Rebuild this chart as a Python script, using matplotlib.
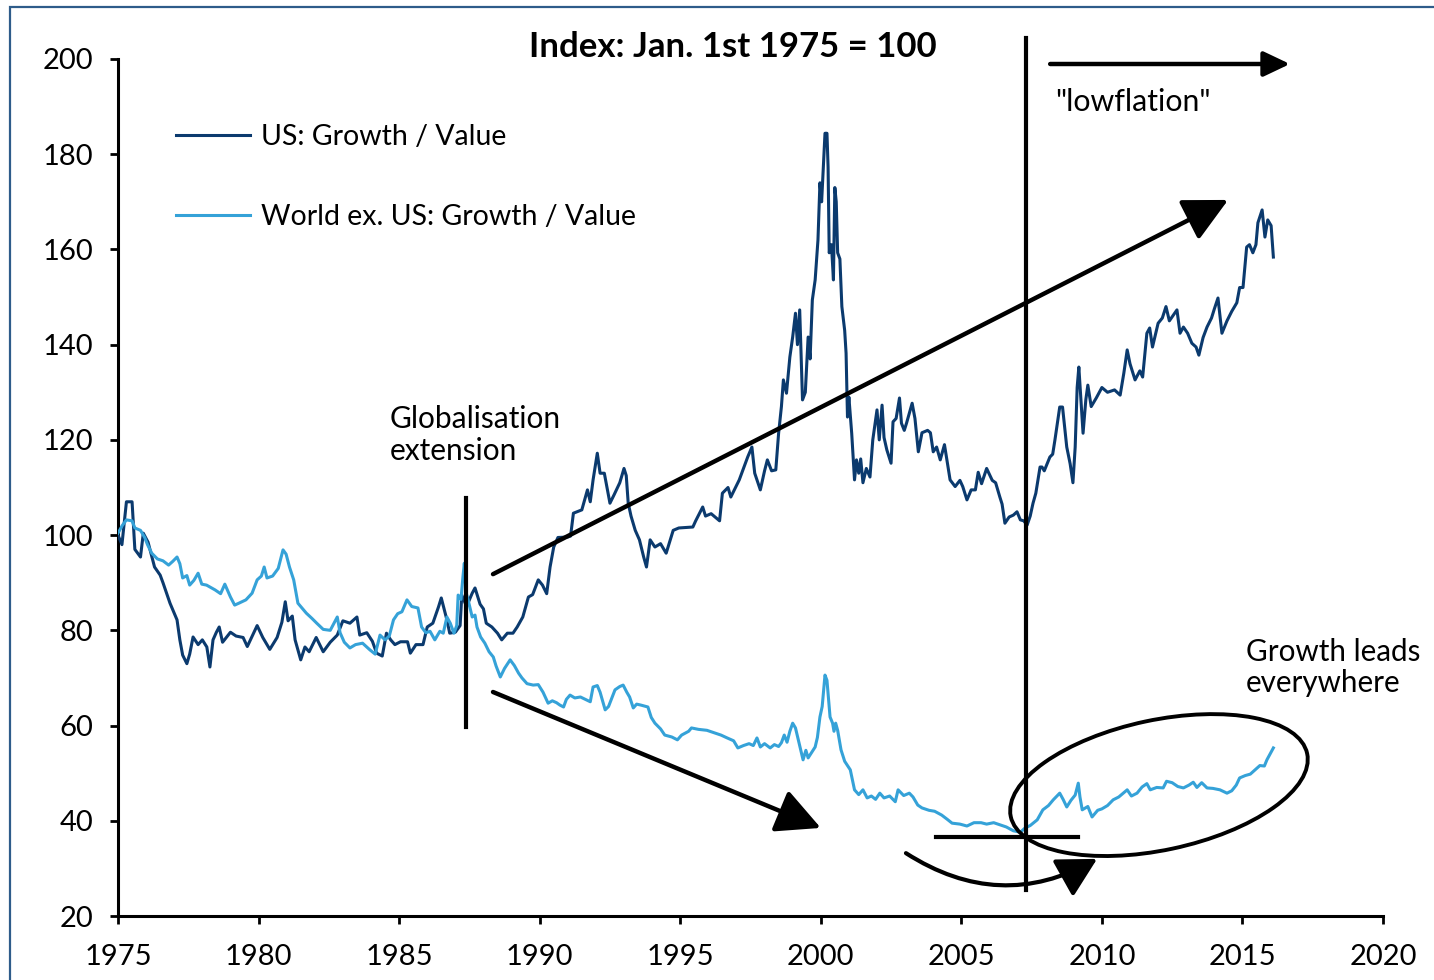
import matplotlib
matplotlib.use("Agg")
import matplotlib.pyplot as plt
from matplotlib.patches import Rectangle, Ellipse
from matplotlib import transforms

plt.rcParams['font.family'] = ['Lato', 'DejaVu Sans']

# ---------------- data ----------------
us_years = [1975.0, 1975.14, 1975.3, 1975.5, 1975.6, 1975.8, 1975.9, 1976.07, 1976.3, 1976.5,
            1976.6, 1976.85, 1977.1, 1977.2, 1977.3, 1977.45, 1977.55, 1977.67, 1977.85, 1978.0,
            1978.16, 1978.27, 1978.38, 1978.5, 1978.6, 1978.72, 1979.0, 1979.2, 1979.45, 1979.6,
            1979.95, 1980.15, 1980.4, 1980.66, 1980.83, 1980.95, 1981.05, 1981.2, 1981.3, 1981.5,
            1981.65, 1981.8, 1982.05, 1982.3, 1982.55, 1982.8, 1983.0, 1983.25, 1983.5, 1983.6,
            1983.85, 1984.05, 1984.2, 1984.4, 1984.55, 1984.7, 1984.85, 1985.05, 1985.3, 1985.4,
            1985.6, 1985.85, 1986.0, 1986.2, 1986.4, 1986.5, 1986.7, 1986.8, 1987.0, 1987.17,
            1987.23, 1987.4, 1987.6, 1987.7, 1987.88, 1988.0, 1988.1, 1988.3, 1988.5, 1988.65,
            1988.85, 1989.05, 1989.2, 1989.4, 1989.6, 1989.75, 1989.95, 1990.1, 1990.25, 1990.37,
            1990.5, 1990.65, 1991.0, 1991.1, 1991.2, 1991.5, 1991.7, 1991.8, 1991.9, 1992.05,
            1992.15, 1992.3, 1992.5, 1992.65, 1992.85, 1993.0, 1993.08, 1993.15, 1993.25, 1993.4,
            1993.55, 1993.7, 1993.8, 1993.93, 1994.1, 1994.3, 1994.5, 1994.75, 1994.95, 1995.45,
            1995.55, 1995.8, 1995.9, 1996.1, 1996.4, 1996.5, 1996.7, 1996.8, 1997.1, 1997.25,
            1997.4, 1997.55, 1997.65, 1997.85, 1998.0, 1998.1, 1998.25, 1998.4, 1998.5, 1998.6,
            1998.67, 1998.78, 1998.9, 1999.0, 1999.1, 1999.17, 1999.25, 1999.35, 1999.45, 1999.55,
            1999.62, 1999.7, 1999.8, 1999.9, 1999.97, 2000.03, 2000.08, 2000.15, 2000.22, 2000.26,
            2000.3, 2000.38, 2000.45, 2000.5, 2000.55, 2000.6, 2000.68, 2000.75, 2000.85, 2000.9,
            2000.95, 2001.0, 2001.1, 2001.2, 2001.27, 2001.35, 2001.42, 2001.5, 2001.62, 2001.75,
            2001.85, 2002.0, 2002.08, 2002.18, 2002.25, 2002.35, 2002.5, 2002.57, 2002.68, 2002.8,
            2002.87, 2002.97, 2003.05, 2003.25, 2003.35, 2003.47, 2003.6, 2003.8, 2003.9, 2004.0,
            2004.12, 2004.25, 2004.4, 2004.6, 2004.78, 2004.95, 2005.05, 2005.2, 2005.35, 2005.5,
            2005.6, 2005.72, 2005.9, 2006.1, 2006.22, 2006.37, 2006.45, 2006.55, 2006.7, 2006.85,
            2006.98, 2007.1, 2007.22, 2007.34, 2007.45, 2007.55, 2007.65, 2007.8, 2007.87, 2007.95,
            2008.15, 2008.25, 2008.33, 2008.5, 2008.6, 2008.75, 2008.87, 2008.97, 2009.05, 2009.12,
            2009.18, 2009.27, 2009.33, 2009.43, 2009.5, 2009.62, 2009.8, 2010.0, 2010.2, 2010.45,
            2010.65, 2010.78, 2010.9, 2011.0, 2011.18, 2011.35, 2011.45, 2011.6, 2011.7, 2011.8,
            2012.0, 2012.15, 2012.28, 2012.4, 2012.67, 2012.78, 2012.9, 2013.05, 2013.2, 2013.35,
            2013.45, 2013.6, 2013.74, 2013.9, 2014.0, 2014.13, 2014.27, 2014.45, 2014.62, 2014.8,
            2014.9, 2015.02, 2015.15, 2015.25, 2015.37, 2015.48, 2015.55, 2015.7, 2015.8, 2015.9,
            2016.02, 2016.1]
us_values = [100, 98, 107, 107, 97, 95.4, 100.4, 98.5, 93.3, 91.6,
             90, 85.7, 82.2, 78, 74.8, 73, 75, 78.6, 77, 78,
             76.5, 72.3, 78, 79.6, 80.7, 77.5, 79.6, 78.8, 78.5, 76.6,
             81, 78.5, 76, 78.5, 81.7, 86, 82, 83, 78, 73.8,
             76.5, 75.5, 78.5, 75.5, 77.5, 79, 82, 81.5, 82.8, 79,
             79.5, 77.7, 75.2, 74.6, 79.4, 78, 77, 77.6, 77.6, 75.2,
             77, 77, 80.7, 81.5, 84.9, 86.8, 82.2, 79.4, 79.6, 81,
             87.4, 85, 87.8, 88.9, 85.5, 84.5, 81.5, 80.7, 79.4, 78,
             79.4, 79.4, 80.7, 82.8, 87, 87.5, 90.6, 89.5, 87.7, 93.3,
             97.5, 99.5, 99.6, 99.8, 104.6, 105.3, 109.5, 107, 111.6, 117.2,
             113, 113, 106.7, 108.5, 111, 114, 112.5, 106.7, 104, 101,
             99, 95.4, 93.3, 99, 97.5, 98.2, 96.2, 101, 101.5, 101.7,
             103, 105.9, 104, 104.5, 103, 108.8, 110, 108, 111.6, 114,
             116.4, 118.5, 113, 109.5, 113.5, 115.8, 113.5, 113.7, 121.4, 127,
             132.6, 129.8, 137.4, 141.6, 146.6, 140, 147.3, 128.4, 130, 141.6,
             137, 149.4, 153.6, 162, 174, 170, 176, 184.4, 184.4, 177.3,
             159.3, 161, 153.6, 173, 170, 159.3, 158, 148, 143, 138.2,
             124.8, 129, 121.4, 111.6, 115.8, 113, 116, 111, 114, 112.2,
             120, 126.3, 120, 127.3, 120.5, 117.9, 115.1, 123.8, 124.5, 128.8,
             123.5, 122, 123.5, 127.7, 124.5, 117.5, 121.5, 122, 121.5, 117.5,
             118.5, 115.8, 119, 111.6, 110.2, 111.5, 110.2, 107.4, 109.5, 109.5,
             113.2, 110.8, 114, 111.5, 111, 108, 106.5, 102.5, 103.8, 104.2,
             104.9, 103.2, 103, 102.1, 104, 106.7, 108.8, 114.3, 114.3, 113.5,
             116.4, 117, 120, 126.9, 126.9, 118.5, 115, 111, 118.5, 131,
             135.3, 127, 121.4, 128.5, 131.5, 127, 128.8, 131, 130, 130.5,
             129.4, 134, 138.9, 136, 132.6, 134.5, 133.2, 142.4, 143.5, 139.5,
             144.5, 145.6, 148, 145, 147.3, 142.4, 143.7, 142.4, 140.3, 139.5,
             137.8, 141.5, 143.7, 145.6, 147.5, 149.8, 142.4, 145, 147, 148.8,
             152, 152, 160.5, 161, 159.3, 161, 165.6, 168.3, 162.6, 166.2,
             165, 158.4]

wx_years = [1975.0, 1975.15, 1975.3, 1975.5, 1975.6, 1975.8, 1975.95, 1976.05, 1976.2, 1976.4,
            1976.6, 1976.8, 1976.95, 1977.1, 1977.2, 1977.3, 1977.45, 1977.55, 1977.7, 1977.85,
            1977.98, 1978.15, 1978.45, 1978.65, 1978.8, 1979.0, 1979.15, 1979.3, 1979.55, 1979.77,
            1979.95, 1980.1, 1980.2, 1980.3, 1980.5, 1980.7, 1980.87, 1980.98, 1981.1, 1981.25,
            1981.4, 1981.5, 1981.7, 1981.9, 1982.07, 1982.3, 1982.55, 1982.8, 1982.9, 1983.05,
            1983.25, 1983.45, 1983.7, 1983.96, 1984.15, 1984.32, 1984.5, 1984.65, 1984.8, 1984.95,
            1985.1, 1985.28, 1985.45, 1985.67, 1985.8, 1985.95, 1986.1, 1986.27, 1986.45, 1986.57,
            1986.7, 1986.82, 1986.95, 1987.05, 1987.1, 1987.2, 1987.27, 1987.32, 1987.38, 1987.45,
            1987.6, 1987.7, 1987.77, 1987.9, 1988.05, 1988.2, 1988.35, 1988.45, 1988.6, 1988.75,
            1988.95, 1989.1, 1989.25, 1989.37, 1989.55, 1989.77, 1989.95, 1990.12, 1990.3, 1990.45,
            1990.6, 1990.72, 1990.85, 1990.95, 1991.08, 1991.25, 1991.45, 1991.7, 1991.8, 1991.9,
            1992.05, 1992.15, 1992.33, 1992.45, 1992.55, 1992.68, 1992.85, 1992.97, 1993.1, 1993.2,
            1993.33, 1993.45, 1993.6, 1993.85, 1993.97, 1994.1, 1994.3, 1994.45, 1994.7, 1994.9,
            1995.05, 1995.3, 1995.4, 1995.65, 1995.95, 1996.2, 1996.45, 1996.67, 1996.9, 1997.05,
            1997.25, 1997.45, 1997.6, 1997.73, 1997.85, 1998.0, 1998.2, 1998.35, 1998.5, 1998.6,
            1998.7, 1998.8, 1998.9, 1999.0, 1999.1, 1999.22, 1999.37, 1999.47, 1999.55, 1999.67,
            1999.8, 1999.88, 1999.97, 2000.05, 2000.15, 2000.22, 2000.27, 2000.33, 2000.42, 2000.47,
            2000.53, 2000.6, 2000.72, 2000.85, 2001.05, 2001.2, 2001.35, 2001.5, 2001.65, 2001.8,
            2001.95, 2002.1, 2002.25, 2002.45, 2002.65, 2002.75, 2002.95, 2003.15, 2003.28, 2003.45,
            2003.6, 2003.85, 2004.05, 2004.3, 2004.5, 2004.67, 2004.95, 2005.2, 2005.45, 2005.7,
            2005.9, 2006.15, 2006.35, 2006.6, 2006.85, 2007.1, 2007.27, 2007.45, 2007.7, 2007.9,
            2008.1, 2008.27, 2008.4, 2008.5, 2008.62, 2008.75, 2008.9, 2009.05, 2009.16, 2009.22,
            2009.3, 2009.5, 2009.65, 2009.85, 2010.0, 2010.2, 2010.4, 2010.6, 2010.9, 2011.05,
            2011.25, 2011.43, 2011.6, 2011.72, 2011.95, 2012.18, 2012.3, 2012.5, 2012.7, 2012.9,
            2013.1, 2013.25, 2013.38, 2013.55, 2013.74, 2013.95, 2014.2, 2014.45, 2014.62, 2014.78,
            2014.9, 2015.1, 2015.28, 2015.45, 2015.62, 2015.78, 2015.87, 2015.98, 2016.1]
wx_values = [100.4, 102, 103.2, 103, 101.5, 101, 99.5, 98, 96.2, 95,
             94.6, 93.7, 94.5, 95.4, 94, 91, 91.5, 89.5, 90.5, 92,
             89.7, 89.5, 88.5, 87.7, 89.7, 87, 85.3, 85.7, 86.4, 87.8,
             90.6, 91.4, 93.3, 91, 91.4, 93, 96.9, 96, 93.3, 90.6,
             85.7, 85, 83.6, 82.5, 81.5, 80.2, 80, 82.8, 79.5, 77.5,
             76.3, 77, 77.3, 75.9, 75, 79, 78, 78.8, 82.2, 83.5,
             83.9, 86.4, 85, 84.7, 80.7, 79.5, 79.8, 78, 79.8, 79.4,
             82.8, 81.5, 79.4, 81, 87.4, 86.5, 91.2, 94.1, 88, 86.5,
             82.8, 83.2, 80.7, 78.6, 77.3, 75.5, 74.4, 72.5, 70.2, 72,
             73.8, 72.6, 71, 70, 68.8, 68.5, 68.6, 67, 64.7, 65.2,
             64.8, 64.3, 63.9, 65.5, 66.4, 65.8, 66, 65.3, 65, 68.1,
             68.4, 67, 63.3, 64, 65.5, 67.5, 68.2, 68.5, 67, 66,
             63.7, 64.5, 64.3, 63.9, 61.7, 60.5, 59.3, 58, 57.6, 57,
             58, 58.8, 59.5, 59.2, 59, 58.5, 58, 57.4, 56.8, 55.3,
             55.8, 56.2, 55.8, 57.4, 55.5, 56.2, 55.3, 56, 55.6, 56.4,
             58, 56.5, 58.8, 60.5, 59.5, 56.5, 52.8, 54.8, 53.2, 54.3,
             55.5, 57.5, 61.8, 64, 70.6, 69.5, 66, 61.8, 60.5, 58.8,
             60.5, 59, 54.9, 52.5, 50.7, 46.5, 45.5, 46.5, 44.8, 45.2,
             44.5, 45.8, 44.8, 45.2, 44, 46.5, 45.3, 45.8, 45, 43.3,
             42.7, 42.2, 42, 41.2, 40.3, 39.5, 39.3, 38.9, 39.6, 39.6,
             39.3, 39.6, 39.2, 38.7, 37.9, 37.6, 38.5, 39, 40.2, 42.3,
             43.2, 44.4, 45.2, 45.8, 44.5, 42.9, 44.3, 45.4, 47.9, 45,
             42.3, 43, 40.8, 42.2, 42.5, 43.2, 44.4, 45, 46.5, 45.2,
             45.8, 47.1, 47.8, 46.5, 47, 46.9, 48.3, 48, 47.2, 46.9,
             47.5, 48.1, 47, 48, 46.9, 46.8, 46.5, 45.8, 46.3, 47.5,
             49, 49.5, 49.8, 50.7, 51.6, 51.5, 52.8, 54, 55.3]

series_labels = ["US: Growth / Value", "World ex. US: Growth / Value"]
x_ticks = [1975, 1980, 1985, 1990, 1995, 2000, 2005, 2010, 2015, 2020]
y_ticks = [20, 40, 60, 80, 100, 120, 140, 160, 180, 200]
title_text = "Index: Jan. 1st 1975 = 100"

US_COLOR = '#0B3A6E'
WX_COLOR = '#35A2D8'

# ---------------- figure ----------------
fig = plt.figure(figsize=(14.34, 9.8), dpi=100)
ax = fig.add_axes([118/1434, 1 - 916/980, (1383-118)/1434, (916-59)/980])

ax.plot(us_years, us_values, color=US_COLOR, lw=2.2, label=series_labels[0], zorder=3)
ax.plot(wx_years, wx_values, color=WX_COLOR, lw=2.2, label=series_labels[1], zorder=3)

ax.set_xlim(1975, 2020)
ax.set_ylim(20, 200)
ax.set_xticks(x_ticks)
ax.set_yticks(y_ticks)
ax.spines['top'].set_visible(False)
ax.spines['right'].set_visible(False)
for s in ('left', 'bottom'):
    ax.spines[s].set_linewidth(2.2)
ax.tick_params(axis='both', direction='out', length=6, width=2.0, labelsize=21, colors='black')
ax.tick_params(axis='y', pad=12)
ax.tick_params(axis='x', pad=14)

leg = ax.legend(loc='upper left', bbox_to_anchor=((176-118)/1265, (916-124)/857),
                frameon=False, fontsize=20.5, handlelength=2.6, handletextpad=0.4,
                labelspacing=1.88, borderpad=0, borderaxespad=0)

fig.text(733/1434, 1 - 47/980, title_text, ha='center', va='center',
         fontsize=25, fontweight='bold')

# ---------------- annotations ----------------
BLACK = 'black'
# vertical marker lines
ax.plot([1987.38, 1987.38], [59.7, 107.8], color=BLACK, lw=3, clip_on=False, zorder=4)
ax.plot([2007.30, 2007.30], [25.5, 204.4], color=BLACK, lw=3, clip_on=False, zorder=4)
# horizontal line near the trough
ax.plot([2004.1, 2009.15], [36.6, 36.6], color=BLACK, lw=3, zorder=4)

def arrow(start, end, hl, hw, lw=3.2, conn='arc3,rad=0'):
    ax.annotate('', xy=end, xytext=start, xycoords='data', textcoords='data',
                annotation_clip=False,
                arrowprops=dict(arrowstyle=f'-|>,head_length={hl},head_width={hw}',
                                color=BLACK, lw=lw, shrinkA=0, shrinkB=0,
                                mutation_scale=20, connectionstyle=conn),
                zorder=5)

arrow((2008.16, 198.95), (2016.69, 198.95), 0.8, 0.38)
arrow((1988.34, 91.8), (2014.49, 170.4), 1.35, 0.68)
arrow((1988.34, 67.05), (2000.0, 38.5), 1.35, 0.68)
arrow((2003.03, 33.2), (2009.83, 32.0), 1.2, 0.65, lw=3.0, conn='arc3,rad=0.3')

# ellipse around recent period (size in inches, centred at a data point)
etrans = fig.dpi_scale_trans + transforms.ScaledTranslation(2012.03, 47.5, ax.transData)
ax.add_patch(Ellipse((0, 0), 3.03, 1.30, angle=12, transform=etrans, fill=False,
                     edgecolor=BLACK, lw=2.8, zorder=5, clip_on=False))

ax.text(1984.68, 121.0, "Globalisation\nextension", fontsize=21.5, ha='left', va='center',
        linespacing=1.17)
ax.text(2015.13, 72.2, "Growth leads\neverywhere", fontsize=21.3, ha='left', va='center',
        linespacing=1.15, clip_on=False)
ax.text(2008.33, 191.0, '"lowflation"', fontsize=21.8, ha='left', va='center')

# outer frame
fig.patches.append(Rectangle((10/1434, -0.1), 2, 1 - 7/980 + 0.1, transform=fig.transFigure,
                             fill=False, edgecolor='#2E5C8A', lw=1.6))

fig.savefig('out.png', dpi=100)
